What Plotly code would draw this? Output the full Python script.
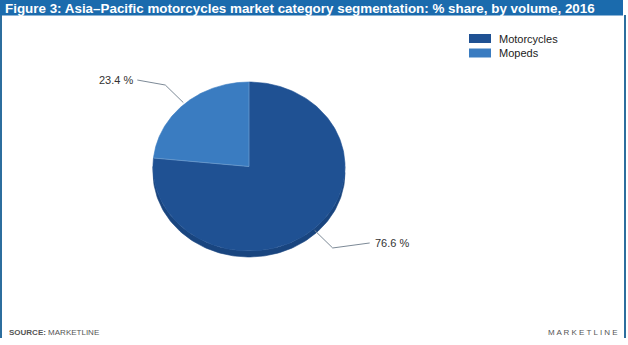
import numpy as np
import plotly.graph_objects as go

# ---- data ----
categories = ["Motorcycles", "Mopeds"]
shares = [76.6, 23.4]
title_text = "Figure 3: Asia\u2013Pacific motorcycles market category segmentation: % share, by volume, 2016"
source_text = "<b>SOURCE:</b> MARKETLINE"
brand_text = "MARKETLINE"

# ---- styles ----
top_colors = ["#1f5193", "#3a7cc1"]
side_colors = ["#19457f", "#2f69a6"]
header_color = "#1b6bad"
border_color = "#2c6e9e"
font_family = "Arial, 'Liberation Sans', sans-serif"

W, H = 628, 345
cx, cy, rx, ry, depth = 249.0, 166.5, 96.0, 84.5, 6.0


def ell(theta_deg, scale=1.0, dy=0.0):
    t = np.radians(theta_deg)
    return cx + scale * rx * np.cos(t), cy - scale * ry * np.sin(t) + dy


fig = go.Figure()

# slice angle ranges (clockwise from 12 o'clock)
bounds = []
a = 90.0
for s in shares:
    a1 = a - s * 3.6
    bounds.append((a, a1))
    a = a1

# side (depth) of pie, front half only
for (a0, a1), col in zip(bounds, side_colors):
    for k in range(-2, 2):
        lo, hi = -180 + 360 * k, 0 + 360 * k
        s_lo, s_hi = max(lo, a1), min(hi, a0)
        if s_hi - s_lo > 0.01:
            th = np.linspace(s_hi, s_lo, 120)
            x1, y1 = ell(th)
            x2, y2 = ell(th[::-1], dy=depth)
            fig.add_trace(go.Scatter(
                x=np.concatenate([x1, x2]), y=np.concatenate([y1, y2]),
                mode="lines", fill="toself", fillcolor=col,
                line=dict(width=0.6, color=col), hoverinfo="skip", showlegend=False))

# top faces
for (a0, a1), col, name in zip(bounds, top_colors, categories):
    th = np.linspace(a0, a1, 200)
    x, y = ell(th)
    fig.add_trace(go.Scatter(
        x=np.concatenate([[cx], x, [cx]]), y=np.concatenate([[cy], y, [cy]]),
        mode="lines", fill="toself", fillcolor=col,
        line=dict(width=0.6, color=col), name=name, hoverinfo="skip", showlegend=False))

# slice boundary highlight lines
for (a0, a1) in bounds:
    x, y = ell(a0)
    fig.add_trace(go.Scatter(x=[cx, x], y=[cy, y], mode="lines",
                             line=dict(width=0.8, color="rgba(255,255,255,0.25)"),
                             hoverinfo="skip", showlegend=False))

annotations = []
# leader lines and labels
for (a0, a1), s in zip(bounds, shares):
    mid = (a0 + a1) / 2
    sx, sy = ell(mid, 1.02)
    ex, ey = ell(mid, 1.3)
    right = np.cos(np.radians(mid)) >= 0
    dx = 37 if right else -28
    tx, ty = ex + dx, ey - 5
    fig.add_trace(go.Scatter(x=[sx, ex, tx], y=[sy, ey, ty], mode="lines",
                             line=dict(width=1, color="#7d8a97"),
                             hoverinfo="skip", showlegend=False))
    annotations.append(dict(
        x=tx + (3 if right else -2), y=ty, xref="x", yref="y",
        text=f"{s:.1f} %", showarrow=False,
        xanchor="left" if right else "right", yanchor="middle",
        font=dict(family=font_family, size=11, color="#333333")))

shapes = []
# header bar
shapes.append(dict(type="rect", xref="x", yref="y", x0=0, x1=623, y0=0, y1=15.5,
                   fillcolor=header_color, line=dict(width=0), layer="below"))
# side borders
shapes.append(dict(type="line", xref="x", yref="y", x0=1, x1=1, y0=15, y1=338,
                   line=dict(color=border_color, width=2)))
shapes.append(dict(type="line", xref="x", yref="y", x0=625, x1=625, y0=15, y1=338,
                   line=dict(color=border_color, width=2)))

# legend
for i, (name, col) in enumerate(zip(categories, top_colors)):
    yc = 38.5 + 14.5 * i
    shapes.append(dict(type="rect", xref="x", yref="y", x0=469, x1=491,
                       y0=yc - 4.5, y1=yc + 4.5, fillcolor=col, line=dict(width=0)))
    annotations.append(dict(x=497, y=yc, xref="x", yref="y", text=name,
                            showarrow=False, xanchor="left", yanchor="middle",
                            font=dict(family=font_family, size=11, color="#222222")))

# title
annotations.append(dict(x=3, y=8, xref="x", yref="y", text=f"<b>{title_text}</b>",
                        showarrow=False, xanchor="left", yanchor="middle",
                        font=dict(family=font_family, size=13.4, color="white")))
# footer
annotations.append(dict(x=7, y=332, xref="x", yref="y", text=source_text,
                        showarrow=False, xanchor="left", yanchor="middle",
                        font=dict(family=font_family, size=8, color="#555555")))
annotations.append(dict(x=620, y=332, xref="x", yref="y", text=" ".join(brand_text),
                        showarrow=False, xanchor="right", yanchor="middle",
                        font=dict(family=font_family, size=8, color="#555555")))

fig.update_layout(
    width=W, height=H, margin=dict(l=0, r=0, t=0, b=0),
    paper_bgcolor="white", plot_bgcolor="white", showlegend=False,
    xaxis=dict(range=[0, W], visible=False, fixedrange=True),
    yaxis=dict(range=[H, 0], visible=False, fixedrange=True),
    shapes=shapes, annotations=annotations,
)

fig.write_html("out.html")
